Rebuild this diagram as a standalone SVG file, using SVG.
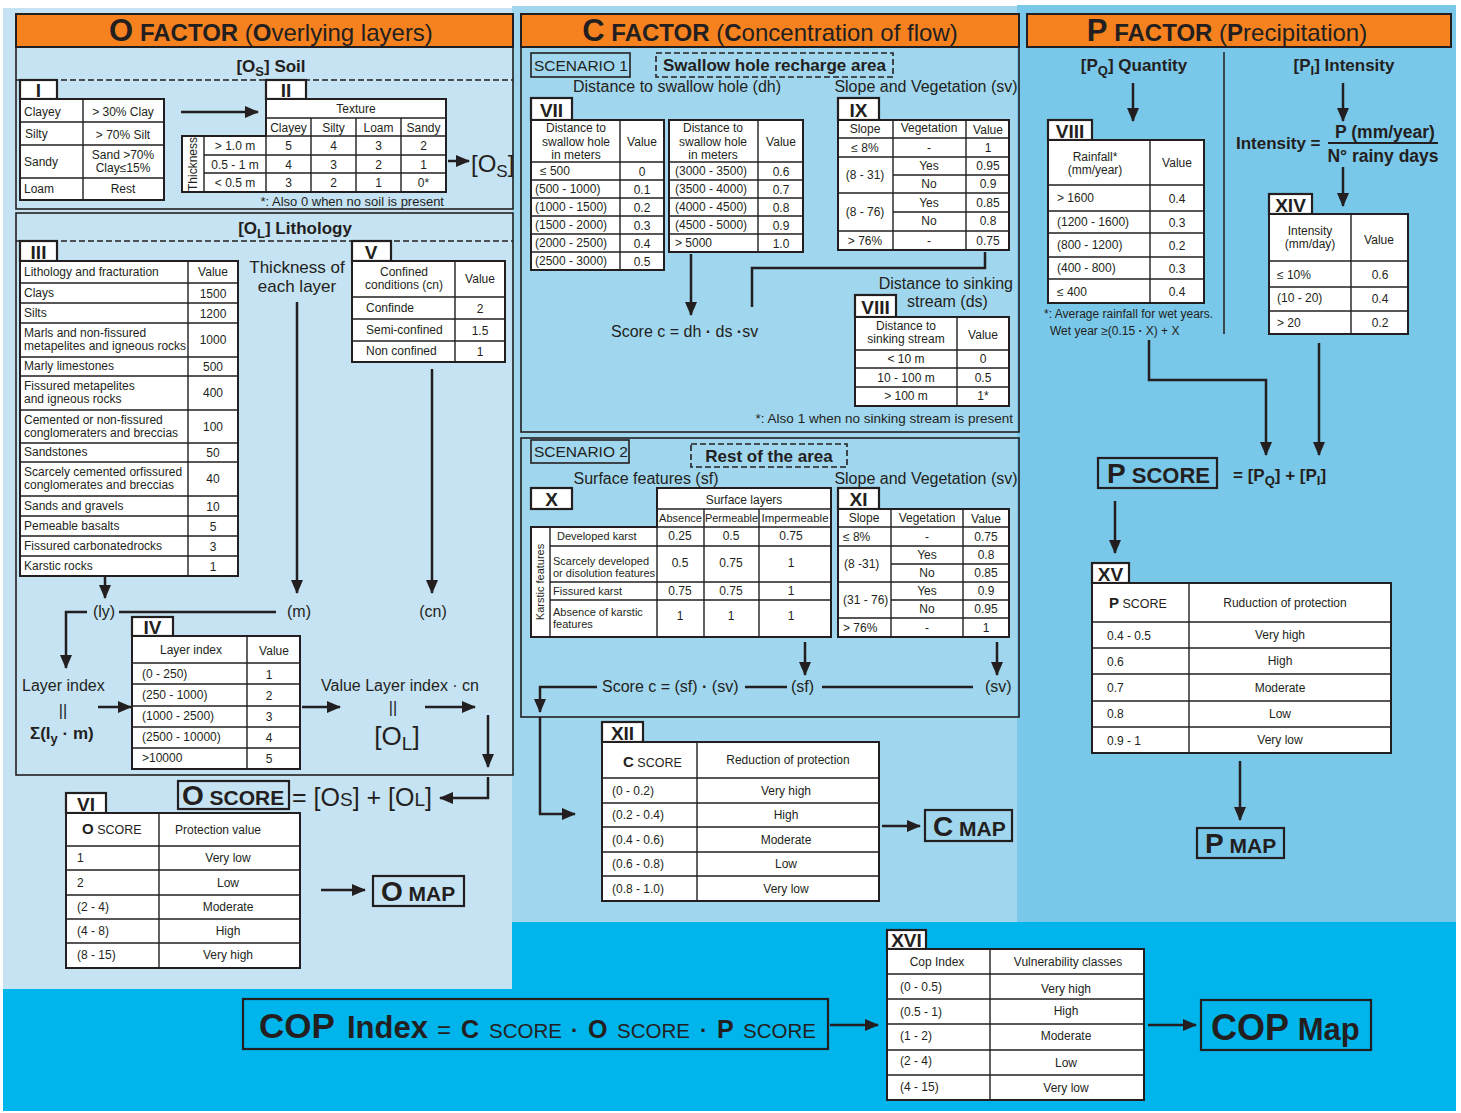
<svg xmlns="http://www.w3.org/2000/svg" width="1461" height="1113" viewBox="0 0 1461 1113">
<defs>
<style>
text{font-family:"Liberation Sans",Arial,sans-serif;fill:#231f20}
.t{font-size:12px}
.m{text-anchor:middle}
.e{text-anchor:end}
.b{font-weight:bold}
.tb{fill:#fff;stroke:#231f20;stroke-width:2}
.g{fill:none;stroke:#231f20;stroke-width:1.4}
.lb{fill:#fff;stroke:#231f20;stroke-width:2.2}
.lt{font-size:19px;font-weight:bold;text-anchor:middle}
.c{fill:none;stroke:#231f20;stroke-width:2.5}
.a{marker-end:url(#ah)}
.fr{fill:none;stroke:#231f20;stroke-width:1.6}
.ds{fill:none;stroke:#231f20;stroke-width:1.6;stroke-dasharray:6 3}
.hd{fill:#f5821f;stroke:#231f20;stroke-width:2}
.lab{font-size:16px}
.bx{fill:none;stroke:#231f20;stroke-width:2.2}
</style>
<marker id="ah" markerUnits="userSpaceOnUse" markerWidth="14" markerHeight="12" refX="13" refY="6" orient="auto"><path d="M0,0L14,6L0,12Z" fill="#231f20"/></marker>
</defs>
<rect x="0" y="0" width="1461" height="1113" fill="#fff"/>
<rect x="3" y="922" width="1453" height="189" fill="#00b4ec"/>
<rect x="3" y="8" width="509" height="981" fill="#c6e3f3"/>
<rect x="512" y="6" width="505" height="916" fill="#a0d6ee"/>
<rect x="1017" y="5" width="439" height="917" fill="#79c7e9"/>

<!-- O FACTOR -->
<g id="o-header">
<rect class="hd" x="16" y="14" width="497" height="33"/>
<text x="271" y="41" class="m" font-size="24"><tspan class="b" font-size="31">O</tspan><tspan class="b"> FACTOR</tspan> (<tspan class="b">O</tspan>verlying layers)</text>
</g>
<g id="o-soil">
<rect class="fr" x="16" y="47" width="497" height="162"/>
<text x="271" y="72" class="m b" font-size="17">[O<tspan dy="4" font-size="13">S</tspan><tspan dy="-4">] Soil</tspan></text>
<line class="ds" x1="16" y1="80" x2="513" y2="80"/>
<text x="444" y="206" class="e" font-size="13">*: Also 0 when no soil is present</text>
<text x="471" y="172" font-size="24">[O<tspan dy="5" font-size="17">S</tspan><tspan dy="-5">]</tspan></text>
</g>
<g id="table-I">
<rect class="lb" x="20" y="80" width="37" height="19"/><text x="38.5" y="97" class="lt">I</text>
<rect class="tb" x="20" y="99" width="144" height="101"/>
<path class="g" d="M83 99V200M20 122H164M20 145H164M20 178H164"/>
<g class="t">
<text x="24" y="116">Clayey</text><text x="123" y="116" class="m">&gt; 30% Clay</text>
<text x="25" y="138">Silty</text><text x="123" y="139" class="m">&gt; 70% Silt</text>
<text x="24" y="166">Sandy</text><text x="123" y="159" class="m">Sand &gt;70%</text><text x="123" y="172" class="m">Clay≤15%</text>
<text x="24" y="193">Loam</text><text x="123" y="193" class="m">Rest</text>
</g>
</g>
<g id="table-II">
<rect class="lb" x="266" y="80" width="40" height="19"/><text x="286" y="97" class="lt">II</text>
<path class="tb" d="M266 99H446V192H182V136H266Z"/>
<path class="g" d="M266 118H446M266 136H446M311 118V192M356 118V192M401 118V192M266 136V192M204 136V192M204 155H446M204 173H446"/>
<g class="t">
<text x="356" y="113" class="m">Texture</text>
<text x="288.5" y="132" class="m">Clayey</text><text x="333.5" y="132" class="m">Silty</text><text x="378.5" y="132" class="m">Loam</text><text x="423.5" y="132" class="m">Sandy</text>
<text x="235" y="150" class="m">&gt; 1.0 m</text><text x="235" y="168.5" class="m">0.5 - 1 m</text><text x="235" y="187" class="m">&lt; 0.5 m</text>
<text x="288.5" y="150" class="m">5</text><text x="333.5" y="150" class="m">4</text><text x="378.5" y="150" class="m">3</text><text x="423.5" y="150" class="m">2</text>
<text x="288.5" y="168.5" class="m">4</text><text x="333.5" y="168.5" class="m">3</text><text x="378.5" y="168.5" class="m">2</text><text x="423.5" y="168.5" class="m">1</text>
<text x="288.5" y="187" class="m">3</text><text x="333.5" y="187" class="m">2</text><text x="378.5" y="187" class="m">1</text><text x="423.5" y="187" class="m">0*</text>
<text transform="translate(197,164) rotate(-90)" class="m">Thickness</text>
</g>
</g>
<g id="o-lithology">
<rect class="fr" x="16" y="213" width="497" height="562"/>
<text x="295" y="234" class="m b" font-size="17">[O<tspan dy="4" font-size="13">L</tspan><tspan dy="-4">] Lithology</tspan></text>
<line class="ds" x1="16" y1="241" x2="513" y2="241"/>
<text x="297" y="273" class="m" font-size="17">Thickness of</text>
<text x="297" y="292" class="m" font-size="17">each layer</text>
</g>
<g id="table-III">
<rect class="lb" x="20" y="241" width="37" height="20"/><text x="38.5" y="259" class="lt">III</text>
<rect class="tb" x="20" y="261" width="218" height="315"/>
<path class="g" d="M188 261V576M20 283H238M20 303H238M20 323H238M20 357H238M20 376H238M20 410H238M20 443H238M20 462H238M20 496H238M20 516H238M20 536H238M20 556H238"/>
<g class="t">
<text x="24" y="276">Lithology and fracturation</text><text x="213" y="276" class="m">Value</text>
<text x="24" y="297">Clays</text><text x="213" y="298" class="m">1500</text>
<text x="24" y="317">Silts</text><text x="213" y="318" class="m">1200</text>
<text x="24" y="337">Marls and non-fissured</text><text x="24" y="350">metapelites and igneous rocks</text><text x="213" y="344" class="m">1000</text>
<text x="24" y="370">Marly limestones</text><text x="213" y="371" class="m">500</text>
<text x="24" y="390">Fissured metapelites</text><text x="24" y="403">and igneous rocks</text><text x="213" y="397" class="m">400</text>
<text x="24" y="424">Cemented or non-fissured</text><text x="24" y="437">conglomeraters and breccias</text><text x="213" y="431" class="m">100</text>
<text x="24" y="456">Sandstones</text><text x="213" y="457" class="m">50</text>
<text x="24" y="476">Scarcely cemented orfissured</text><text x="24" y="489">conglomerates and breccias</text><text x="213" y="483" class="m">40</text>
<text x="24" y="510">Sands and gravels</text><text x="213" y="511" class="m">10</text>
<text x="24" y="530">Pemeable basalts</text><text x="213" y="531" class="m">5</text>
<text x="24" y="550">Fissured carbonatedrocks</text><text x="213" y="551" class="m">3</text>
<text x="24" y="570">Karstic rocks</text><text x="213" y="571" class="m">1</text>
</g>
</g>
<g id="table-V">
<rect class="lb" x="352" y="241" width="39" height="20"/><text x="371" y="259" class="lt">V</text>
<rect class="tb" x="352" y="261" width="153" height="101"/>
<path class="g" d="M455 261V362M352 297H505M352 319H505M352 341H505"/>
<g class="t">
<text x="404" y="276" class="m">Confined</text><text x="404" y="289" class="m">conditions (cn)</text><text x="480" y="283" class="m">Value</text>
<text x="366" y="312">Confinde</text><text x="480" y="313" class="m">2</text>
<text x="366" y="334">Semi-confined</text><text x="480" y="335" class="m">1.5</text>
<text x="366" y="355">Non confined</text><text x="480" y="356" class="m">1</text>
</g>
</g>
<g id="o-vars">
<text x="104" y="617" class="m lab">(ly)</text>
<text x="299" y="617" class="m lab">(m)</text>
<text x="433" y="617" class="m lab">(cn)</text>
<text x="22" y="691" class="lab">Layer index</text>
<text x="63" y="716" class="m lab">||</text>
<text x="30" y="739" class="b" font-size="17">Σ(l<tspan dy="4" font-size="13">y</tspan><tspan dy="-4"> · m)</tspan></text>
<text x="321" y="691" class="lab">Value Layer index · cn</text>
<text x="393" y="713" class="m lab">||</text>
<text x="397" y="745" class="m" font-size="26">[O<tspan dy="5" font-size="19">L</tspan><tspan dy="-5">]</tspan></text>
</g>
<g id="table-IV">
<rect class="lb" x="132" y="617" width="41" height="19"/><text x="152.5" y="634" class="lt">IV</text>
<rect class="tb" x="132" y="636" width="168" height="133"/>
<path class="g" d="M247 636V769M132 663H300M132 684H300M132 706H300M132 727H300M132 748H300"/>
<g class="t">
<text x="191" y="654" class="m">Layer index</text><text x="274" y="655" class="m">Value</text>
<text x="142" y="678">(0 - 250)</text><text x="269" y="679" class="m">1</text>
<text x="142" y="699">(250 - 1000)</text><text x="269" y="700" class="m">2</text>
<text x="142" y="720">(1000 - 2500)</text><text x="269" y="721" class="m">3</text>
<text x="142" y="741">(2500 - 10000)</text><text x="269" y="742" class="m">4</text>
<text x="142" y="762">&gt;10000</text><text x="269" y="763" class="m">5</text>
</g>
</g>
<g id="o-score">
<rect class="bx" x="178" y="781" width="111" height="28"/>
<text x="182" y="805" class="b"><tspan font-size="28">O</tspan><tspan font-size="21"> SCORE</tspan></text>
<text x="292" y="806" font-size="25">= [O<tspan font-size="19">S</tspan>] + [O<tspan font-size="19">L</tspan>]</text>
</g>
<g id="table-VI">
<rect class="lb" x="66" y="793" width="40" height="20"/><text x="86" y="811" class="lt">VI</text>
<rect class="tb" x="66" y="813" width="234" height="155"/>
<path class="g" d="M159 813V968M66 846H300M66 870H300M66 895H300M66 919H300M66 943H300"/>
<g class="t">
<text x="82" y="834"><tspan class="b" font-size="15">O</tspan><tspan font-size="12.5"> SCORE</tspan></text><text x="218" y="834" class="m">Protection value</text>
<text x="77" y="862">1</text><text x="228" y="862" class="m">Very low</text>
<text x="77" y="887">2</text><text x="228" y="887" class="m">Low</text>
<text x="77" y="911">(2 - 4)</text><text x="228" y="911" class="m">Moderate</text>
<text x="77" y="935">(4 - 8)</text><text x="228" y="935" class="m">High</text>
<text x="77" y="959">(8 - 15)</text><text x="228" y="959" class="m">Very high</text>
</g>
</g>
<g id="o-map">
<rect class="bx" x="373" y="876" width="91" height="30"/>
<text x="381" y="901" class="b"><tspan font-size="28">O</tspan><tspan font-size="21"> MAP</tspan></text>
</g>

<!-- C FACTOR -->
<g id="c-header">
<rect class="hd" x="521" y="14" width="498" height="33"/>
<text x="770" y="41" class="m" font-size="24"><tspan class="b" font-size="31">C</tspan><tspan class="b"> FACTOR</tspan> (<tspan class="b">C</tspan>oncentration of flow)</text>
</g>
<g id="c-scenario1">
<rect class="fr" x="521" y="47" width="498" height="385"/>
<rect class="fr" x="531" y="53" width="99" height="24"/>
<text x="534" y="71" font-size="15.5">SCENARIO 1</text>
<rect class="ds" x="656" y="53" width="237" height="24"/>
<text x="774.5" y="71" class="m b" font-size="17">Swallow hole recharge area</text>
<text x="677" y="92" class="m lab">Distance to swallow hole (dh)</text>
<text x="926" y="92" class="m lab">Slope and Vegetation (sv)</text>
<text x="611" y="337" class="lab">Score c = dh <tspan class="b">·</tspan> ds <tspan class="b">·</tspan>sv</text>
<text x="1013" y="289" class="e lab">Distance to sinking</text>
<text x="907" y="307" class="lab">stream (ds)</text>
<text x="1013" y="423" class="e" font-size="13.5">*: Also 1 when no sinking stream is present</text>
</g>
<g id="table-VII">
<rect class="lb" x="531" y="98" width="41" height="22"/><text x="551.5" y="117" class="lt">VII</text>
<rect class="tb" x="531" y="120" width="133" height="150"/>
<path class="g" d="M620 120V270M531 162H664M531 180H664M531 198H664M531 216H664M531 234H664M531 252H664"/>
<rect class="tb" x="669" y="120" width="134" height="132"/>
<path class="g" d="M758 120V252M669 162H803M669 180H803M669 198H803M669 216H803M669 234H803"/>
<g class="t">
<text x="576" y="132" class="m">Distance to</text><text x="576" y="146" class="m">swallow hole</text><text x="576" y="159" class="m">in meters</text><text x="642" y="146" class="m">Value</text>
<text x="540" y="175">≤ 500</text><text x="642" y="176" class="m">0</text>
<text x="535" y="193">(500 - 1000)</text><text x="642" y="194" class="m">0.1</text>
<text x="535" y="211">(1000 - 1500)</text><text x="642" y="212" class="m">0.2</text>
<text x="535" y="229">(1500 - 2000)</text><text x="642" y="230" class="m">0.3</text>
<text x="535" y="247">(2000 - 2500)</text><text x="642" y="248" class="m">0.4</text>
<text x="535" y="265">(2500 - 3000)</text><text x="642" y="266" class="m">0.5</text>
<text x="713" y="132" class="m">Distance to</text><text x="713" y="146" class="m">swallow hole</text><text x="713" y="159" class="m">in meters</text><text x="781" y="146" class="m">Value</text>
<text x="675" y="175">(3000 - 3500)</text><text x="781" y="176" class="m">0.6</text>
<text x="675" y="193">(3500 - 4000)</text><text x="781" y="194" class="m">0.7</text>
<text x="675" y="211">(4000 - 4500)</text><text x="781" y="212" class="m">0.8</text>
<text x="675" y="229">(4500 - 5000)</text><text x="781" y="230" class="m">0.9</text>
<text x="675" y="247">&gt; 5000</text><text x="781" y="248" class="m">1.0</text>
</g>
</g>
<g id="table-IX">
<rect class="lb" x="838" y="98" width="41" height="22"/><text x="858.5" y="117" class="lt">IX</text>
<rect class="tb" x="838" y="120" width="171" height="130"/>
<path class="g" d="M893 120V250M966 120V250M838 138H1009M838 157H1009M893 175H1009M838 193H1009M893 212H1009M838 231H1009"/>
<g class="t">
<text x="865" y="133" class="m">Slope</text><text x="929" y="132" class="m">Vegetation</text><text x="988" y="134" class="m">Value</text>
<text x="865" y="152" class="m">≤ 8%</text><text x="929" y="152" class="m">-</text><text x="988" y="152" class="m">1</text>
<text x="865" y="179" class="m">(8 - 31)</text><text x="929" y="170" class="m">Yes</text><text x="988" y="170" class="m">0.95</text><text x="929" y="188" class="m">No</text><text x="988" y="188" class="m">0.9</text>
<text x="865" y="216" class="m">(8 - 76)</text><text x="929" y="207" class="m">Yes</text><text x="988" y="207" class="m">0.85</text><text x="929" y="225" class="m">No</text><text x="988" y="225" class="m">0.8</text>
<text x="865" y="245" class="m">&gt; 76%</text><text x="929" y="245" class="m">-</text><text x="988" y="245" class="m">0.75</text>
</g>
</g>
<g id="table-VIII-ds">
<rect class="lb" x="855" y="295" width="41" height="22"/><text x="875.5" y="314" class="lt">VIII</text>
<rect class="tb" x="855" y="317" width="154" height="89"/>
<path class="g" d="M957 317V406M855 350H1009M855 368H1009M855 387H1009"/>
<g class="t">
<text x="906" y="330" class="m">Distance to</text><text x="906" y="343" class="m">sinking stream</text><text x="983" y="339" class="m">Value</text>
<text x="906" y="363" class="m">&lt; 10 m</text><text x="983" y="363" class="m">0</text>
<text x="906" y="382" class="m">10 - 100 m</text><text x="983" y="382" class="m">0.5</text>
<text x="906" y="400" class="m">&gt; 100 m</text><text x="983" y="400" class="m">1*</text>
</g>
</g>
<g id="c-scenario2">
<rect class="fr" x="521" y="438" width="498" height="279"/>
<rect class="fr" x="531" y="440" width="98" height="23"/>
<text x="534" y="457" font-size="15.5">SCENARIO 2</text>
<rect class="ds" x="691" y="444" width="156" height="23"/>
<text x="769" y="462" class="m b" font-size="17">Rest of the area</text>
<text x="646" y="484" class="m lab">Surface features (sf)</text>
<text x="926" y="484" class="m lab">Slope and Vegetation (sv)</text>
<text x="602" y="692" class="lab">Score c = (sf) <tspan class="b">·</tspan> (sv)</text>
<text x="791" y="692" class="lab">(sf)</text>
<text x="985" y="692" class="lab">(sv)</text>
</g>
<g id="table-X">
<rect class="lb" x="531" y="488" width="41" height="21"/><text x="551.5" y="506" class="lt">X</text>
<path class="tb" d="M657 488H831V637H531V527H657Z"/>
<path class="g" d="M657 509H831M657 527H831M704 509V637M759 509V637M657 527V637M550 527V637M550 546H831M550 582H831M550 600H831"/>
<g class="t">
<text x="744" y="504" class="m">Surface layers</text>
<text x="680.5" y="522" class="m" font-size="11">Absence</text><text x="731.5" y="522" class="m" font-size="11">Permeable</text><text x="795" y="522" class="m" font-size="11.5">Impermeable</text>
<text transform="translate(544,582) rotate(-90)" class="m" font-size="11">Karstic features</text>
<text x="557" y="540" font-size="11">Developed karst</text>
<text x="553" y="565" font-size="11">Scarcely developed</text><text x="553" y="577" font-size="11">or disolution features</text>
<text x="553" y="595" font-size="11">Fissured karst</text>
<text x="553" y="616" font-size="11">Absence of karstic</text><text x="553" y="628" font-size="11">features</text>
<text x="680" y="540" class="m">0.25</text><text x="731" y="540" class="m">0.5</text><text x="791" y="540" class="m">0.75</text>
<text x="680" y="567" class="m">0.5</text><text x="731" y="567" class="m">0.75</text><text x="791" y="567" class="m">1</text>
<text x="680" y="595" class="m">0.75</text><text x="731" y="595" class="m">0.75</text><text x="791" y="595" class="m">1</text>
<text x="680" y="620" class="m">1</text><text x="731" y="620" class="m">1</text><text x="791" y="620" class="m">1</text>
</g>
</g>
<g id="table-XI">
<rect class="lb" x="838" y="488" width="41" height="21"/><text x="858.5" y="506" class="lt">XI</text>
<rect class="tb" x="838" y="509" width="171" height="128"/>
<path class="g" d="M891 509V637M963 509V637M838 527H1009M838 546H1009M891 564H1009M838 582H1009M891 600H1009M838 618H1009"/>
<g class="t">
<text x="864" y="522" class="m">Slope</text><text x="927" y="522" class="m">Vegetation</text><text x="986" y="523" class="m">Value</text>
<text x="843" y="541">≤ 8%</text><text x="927" y="541" class="m">-</text><text x="986" y="541" class="m">0.75</text>
<text x="844" y="568">(8 -31)</text><text x="927" y="559" class="m">Yes</text><text x="986" y="559" class="m">0.8</text><text x="927" y="577" class="m">No</text><text x="986" y="577" class="m">0.85</text>
<text x="843" y="604">(31 - 76)</text><text x="927" y="595" class="m">Yes</text><text x="986" y="595" class="m">0.9</text><text x="927" y="613" class="m">No</text><text x="986" y="613" class="m">0.95</text>
<text x="843" y="632">&gt; 76%</text><text x="927" y="632" class="m">-</text><text x="986" y="632" class="m">1</text>
</g>
</g>
<g id="table-XII">
<rect class="lb" x="602" y="722" width="41" height="20"/><text x="622.5" y="740" class="lt">XII</text>
<rect class="tb" x="602" y="742" width="277" height="159"/>
<path class="g" d="M697 742V901M602 778H879M602 803H879M602 827H879M602 852H879M602 876H879"/>
<g class="t">
<text x="623" y="767"><tspan class="b" font-size="15">C</tspan><tspan font-size="12.5"> SCORE</tspan></text><text x="788" y="764" class="m">Reduction of protection</text>
<text x="612" y="795">(0 - 0.2)</text><text x="786" y="795" class="m">Very high</text>
<text x="612" y="819">(0.2 - 0.4)</text><text x="786" y="819" class="m">High</text>
<text x="612" y="844">(0.4 - 0.6)</text><text x="786" y="844" class="m">Moderate</text>
<text x="612" y="868">(0.6 - 0.8)</text><text x="786" y="868" class="m">Low</text>
<text x="612" y="893">(0.8 - 1.0)</text><text x="786" y="893" class="m">Very low</text>
</g>
</g>
<g id="c-map">
<rect class="bx" x="925" y="810" width="87" height="31"/>
<text x="933" y="836" class="b"><tspan font-size="28">C</tspan><tspan font-size="21"> MAP</tspan></text>
</g>

<!-- P FACTOR -->
<g id="p-header">
<rect class="hd" x="1027" y="14" width="424" height="33"/>
<text x="1227" y="41" class="m" font-size="24"><tspan class="b" font-size="31">P</tspan><tspan class="b"> FACTOR</tspan> (<tspan class="b">P</tspan>recipitation)</text>
</g>
<g id="p-labels">
<line x1="1224" y1="52" x2="1224" y2="334" stroke="#231f20" stroke-width="1.5"/>
<text x="1134" y="71" class="m b" font-size="17">[P<tspan dy="4" font-size="13">Q</tspan><tspan dy="-4">] Quantity</tspan></text>
<text x="1344" y="71" class="m b" font-size="17">[P<tspan dy="4" font-size="13">I</tspan><tspan dy="-4">] Intensity</tspan></text>
<text x="1236" y="149" class="b" font-size="17">Intensity =</text>
<text x="1385" y="138" class="m b" font-size="17.5">P (mm/year)</text>
<line x1="1328" y1="143" x2="1438" y2="143" stroke="#231f20" stroke-width="2"/>
<text x="1383" y="162" class="m b" font-size="17.5">N° rainy days</text>
<text x="1044" y="318" font-size="12">*: Average rainfall for wet years.</text>
<text x="1050" y="335" font-size="12">Wet year  ≥(0.15 <tspan class="b">·</tspan> X) + X</text>
</g>
<g id="table-VIII-rain">
<rect class="lb" x="1048" y="120" width="44" height="20"/><text x="1070" y="138" class="lt">VIII</text>
<rect class="tb" x="1048" y="140" width="156" height="163"/>
<path class="g" d="M1150 140V303M1048 185H1204M1048 211H1204M1048 233H1204M1048 257H1204M1048 279H1204"/>
<g class="t">
<text x="1095" y="161" class="m">Rainfall*</text><text x="1095" y="174" class="m">(mm/year)</text><text x="1177" y="167" class="m">Value</text>
<text x="1057" y="202">&gt; 1600</text><text x="1177" y="203" class="m">0.4</text>
<text x="1057" y="226">(1200 - 1600)</text><text x="1177" y="227" class="m">0.3</text>
<text x="1057" y="249">(800 - 1200)</text><text x="1177" y="250" class="m">0.2</text>
<text x="1057" y="272">(400 - 800)</text><text x="1177" y="273" class="m">0.3</text>
<text x="1057" y="296">≤ 400</text><text x="1177" y="296" class="m">0.4</text>
</g>
</g>
<g id="table-XIV">
<rect class="lb" x="1269" y="194" width="43" height="20"/><text x="1290.5" y="212" class="lt">XIV</text>
<rect class="tb" x="1269" y="214" width="139" height="120"/>
<path class="g" d="M1351 214V334M1269 261H1408M1269 287H1408M1269 311H1408"/>
<g class="t">
<text x="1310" y="235" class="m">Intensity</text><text x="1310" y="248" class="m">(mm/day)</text><text x="1379" y="244" class="m">Value</text>
<text x="1277" y="279">≤ 10%</text><text x="1380" y="279" class="m">0.6</text>
<text x="1277" y="302">(10 - 20)</text><text x="1380" y="303" class="m">0.4</text>
<text x="1277" y="327">&gt; 20</text><text x="1380" y="327" class="m">0.2</text>
</g>
</g>
<g id="p-score">
<rect class="bx" x="1098" y="458" width="119" height="30"/>
<text x="1107" y="483" class="b"><tspan font-size="28">P</tspan><tspan font-size="22"> SCORE</tspan></text>
<text x="1233" y="481" class="b" font-size="17">= [P<tspan dy="4" font-size="13">Q</tspan><tspan dy="-4">] + [P</tspan><tspan dy="4" font-size="13">I</tspan><tspan dy="-4">]</tspan></text>
</g>
<g id="table-XV">
<rect class="lb" x="1092" y="563" width="37" height="20"/><text x="1110.5" y="581" class="lt">XV</text>
<rect class="tb" x="1092" y="583" width="299" height="170"/>
<path class="g" d="M1189 583V753M1092 622H1391M1092 648H1391M1092 674H1391M1092 701H1391M1092 727H1391"/>
<g class="t">
<text x="1109" y="608"><tspan class="b" font-size="15">P</tspan><tspan font-size="12.5"> SCORE</tspan></text><text x="1285" y="607" class="m">Ruduction of protection</text>
<text x="1107" y="640">0.4 - 0.5</text><text x="1280" y="639" class="m">Very high</text>
<text x="1107" y="666">0.6</text><text x="1280" y="665" class="m">High</text>
<text x="1107" y="692">0.7</text><text x="1280" y="692" class="m">Moderate</text>
<text x="1107" y="718">0.8</text><text x="1280" y="718" class="m">Low</text>
<text x="1107" y="745">0.9 - 1</text><text x="1280" y="744" class="m">Very low</text>
</g>
</g>
<g id="p-map">
<rect class="bx" x="1197" y="828" width="87" height="30"/>
<text x="1205" y="853" class="b"><tspan font-size="28">P</tspan><tspan font-size="21"> MAP</tspan></text>
</g>

<!-- COP -->
<g id="cop-index">
<rect class="bx" x="243" y="999" width="585" height="50"/>
<text y="1038"><tspan x="259" class="b" font-size="35">COP</tspan><tspan x="347" class="b" font-size="31">Index</tspan><tspan x="437" font-size="24">=</tspan><tspan x="461" class="b" font-size="25">C</tspan><tspan x="489" font-size="20.5">SCORE</tspan><tspan x="571" class="b" font-size="22">·</tspan><tspan x="588" class="b" font-size="25">O</tspan><tspan x="617" font-size="20.5">SCORE</tspan><tspan x="700" class="b" font-size="22">·</tspan><tspan x="717" class="b" font-size="25">P</tspan><tspan x="743" font-size="20.5">SCORE</tspan></text>
</g>
<g id="table-XVI">
<rect class="lb" x="887" y="930" width="39" height="19"/><text x="906.5" y="947" class="lt">XVI</text>
<rect class="tb" x="887" y="949" width="257" height="151"/>
<path class="g" d="M990 949V1100M887 974H1144M887 999H1144M887 1024H1144M887 1050H1144M887 1075H1144"/>
<g class="t">
<text x="937" y="966" class="m">Cop Index</text><text x="1068" y="966" class="m">Vulnerability classes</text>
<text x="900" y="991">(0 - 0.5)</text><text x="1066" y="993" class="m">Very high</text>
<text x="900" y="1016">(0.5 - 1)</text><text x="1066" y="1015" class="m">High</text>
<text x="900" y="1040">(1 - 2)</text><text x="1066" y="1040" class="m">Moderate</text>
<text x="900" y="1065">(2 - 4)</text><text x="1066" y="1067" class="m">Low</text>
<text x="900" y="1091">(4 - 15)</text><text x="1066" y="1092" class="m">Very low</text>
</g>
</g>
<g id="cop-map">
<rect class="bx" x="1201" y="1000" width="170" height="50"/>
<text x="1211" y="1040" class="b"><tspan font-size="36">COP</tspan><tspan font-size="31"> Map</tspan></text>
</g>

<g id="connectors">
<path class="c a" d="M181 112H258"/>
<path class="c a" d="M448 161H469"/>
<path class="c a" d="M297 302V593"/>
<path class="c a" d="M432 369V593"/>
<path class="c a" d="M105 576V598"/>
<path class="c" d="M119 612H276"/>
<path class="c a" d="M87 612H66V668"/>
<path class="c a" d="M98 707H131"/>
<path class="c a" d="M302 707H340"/>
<path class="c a" d="M425 707H475"/>
<path class="c a" d="M488 715V767"/>
<path class="c a" d="M488 777V798H440"/>
<path class="c a" d="M321 890H365"/>
<path class="c a" d="M691 254V315"/>
<path class="c" d="M985 252V268H752V307"/>
<path class="c a" d="M805 642V675"/>
<path class="c a" d="M997 642V675"/>
<path class="c" d="M745 687H787"/>
<path class="c" d="M822 687H973"/>
<path class="c a" d="M597 687H540V712"/>
<path class="c a" d="M540 717V814H575"/>
<path class="c a" d="M882 826H920"/>
<path class="c a" d="M1133 83V121"/>
<path class="c a" d="M1343 83V121"/>
<path class="c a" d="M1343 167V206"/>
<path class="c a" d="M1149 340V380H1266V455"/>
<path class="c a" d="M1319 343V455"/>
<path class="c a" d="M1115 501V553"/>
<path class="c a" d="M1240 761V820"/>
<path class="c a" d="M830 1025H878"/>
<path class="c a" d="M1148 1025H1196"/>
</g>
</svg>
